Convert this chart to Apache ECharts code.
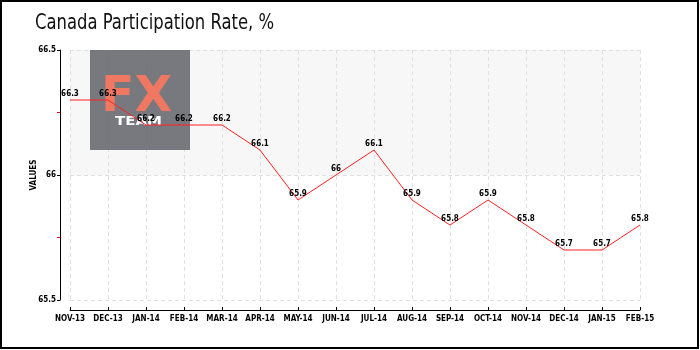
<!DOCTYPE html>
<html><head><meta charset="utf-8">
<script src="https://cdn.jsdelivr.net/npm/echarts@6/dist/echarts.min.js"></script>
<style>html,body{margin:0;padding:0;background:#fff}#c{width:700px;height:350px}</style>
</head><body><div id="c"></div>
<script>
var categories = ["NOV-13","DEC-13","JAN-14","FEB-14","MAR-14","APR-14","MAY-14","JUN-14","JUL-14","AUG-14","SEP-14","OCT-14","NOV-14","DEC-14","JAN-15","FEB-15"];
var values = [66.3,66.3,66.2,66.2,66.2,66.1,65.9,66,66.1,65.9,65.8,65.9,65.8,65.7,65.7,65.8];
var yTicks = [65.5, 66, 66.5];
var titleText = "Canada Participation Rate, %";
var yName = "VALUES";

var chart = echarts.init(document.getElementById('c'), null, {renderer:'canvas'});
var smallFont = '"DejaVu Sans Condensed", "DejaVu Sans", sans-serif';
chart.setOption({
  animation:false,
  backgroundColor:'#fff',
  grid:{left:70,right:60,top:50,bottom:50,containLabel:false},
  graphic:[
    {type:'rect',z:100,silent:true,shape:{x:1,y:1,width:697,height:347},style:{fill:'none',stroke:'#000',lineWidth:2}},
    {type:'text',z:100,x:35,y:12,scaleX:0.83,style:{text:titleText,fill:'#111',font:'normal 22px "DejaVu Sans Condensed","DejaVu Sans",sans-serif'}},
    {type:'rect',z:1,silent:true,shape:{x:90,y:50,width:100,height:100},style:{fill:'rgba(105,105,113,0.9)'}},
    {type:'text',z:1,silent:true,x:101,y:74,style:{text:'FX',fill:'#f07862',font:'bold 49px "DejaVu Sans", sans-serif'}},
    {type:'text',z:1,silent:true,x:115,y:116,scaleX:1.25,style:{text:'TEAM',fill:'#ffffff',font:'bold 12px "DejaVu Sans", sans-serif'}}
  ],
  xAxis:{type:'category',data:categories,boundaryGap:false,offset:10,
    axisLine:{lineStyle:{color:'#000',width:1}},
    axisTick:{inside:true,length:3,interval:0,lineStyle:{color:'#000'}},
    axisLabel:{color:'#000',fontFamily:smallFont,fontSize:8,fontWeight:'bold',margin:5,interval:0},
    splitLine:{show:true,interval:0,lineStyle:{color:'#e0e0e0',type:[4,3]}}
  },
  yAxis:{type:'value',min:yTicks[0],max:yTicks[yTicks.length-1],interval:0.5,offset:10,
    name:yName,nameLocation:'middle',nameGap:22,nameRotate:90,nameMoveOverlap:false,
    nameTextStyle:{color:'#000',fontFamily:smallFont,fontSize:8,fontWeight:'bold'},
    axisLine:{show:true,lineStyle:{color:'#000',width:1}},
    axisTick:{show:true,length:3,lineStyle:{color:'#000'}},
    minorTick:{show:true,splitNumber:2,length:3,lineStyle:{color:'#ff0000'}},
    axisLabel:{color:'#000',fontFamily:smallFont,fontSize:8,fontWeight:'bold',margin:4},
    splitLine:{show:true,lineStyle:{color:'#e0e0e0',type:[4,3]}},
    splitArea:{show:true,areaStyle:{color:['#ffffff','#f7f7f7']}}
  },
  series:[{type:'line',data:values,z:5,showSymbol:true,symbol:'circle',symbolSize:2,
    itemStyle:{color:'rgba(0,0,0,0)',borderWidth:0},
    lineStyle:{color:'#ff2020',width:1},
    label:{show:true,position:'top',distance:1,color:'#000',fontFamily:smallFont,fontSize:8,fontWeight:'bold'}
  }]
});
</script></body></html>
